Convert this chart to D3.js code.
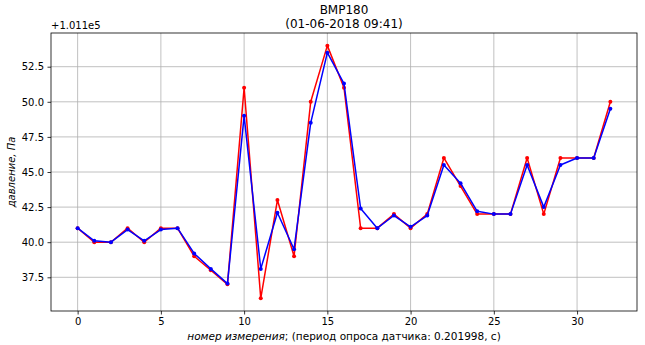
<!DOCTYPE html>
<html>
<head>
<meta charset="utf-8">
<script src="https://cdn.jsdelivr.net/npm/d3@7"></script>
<style>
  body { margin: 0; background: #fff; }
  svg { font-family: "DejaVu Sans", sans-serif; }
</style>
</head>
<body>
<div id="chart"></div>
<script>
// pressure offsets from 1.011e5, Pa
const offset = 101100;
const raw = [41, 40, 40, 41, 40, 41, 41, 39, 38, 37, 51, 36, 43, 39, 50, 54, 51, 41, 41, 42, 41, 42, 46, 44, 42, 42, 42, 46, 42, 46, 46, 46, 50];
const smooth = [41, 40.1, 40, 40.9, 40.1, 40.9, 41, 39.2, 38.1, 37.05, 49, 38.1, 42.1, 39.5, 48.5, 53.5, 51.3, 42.4, 41, 41.9, 41.1, 41.9, 45.5, 44.2, 42.2, 42, 42, 45.5, 42.5, 45.5, 46, 46, 49.5];
const xTicks = [0, 5, 10, 15, 20, 25, 30];
const yTicks = [37.5, 40.0, 42.5, 45.0, 47.5, 50.0, 52.5];

const W = 645, H = 345;
const margin = { top: 33, right: 8, bottom: 34, left: 51 };
const width = W - margin.left - margin.right;
const height = H - margin.top - margin.bottom;

const svg = d3.select('#chart')
  .append('svg')
  .attr('width', W)
  .attr('height', H);

const g = svg.append('g')
  .attr('transform', 'translate(' + margin.left + ',' + margin.top + ')');

const n = raw.length - 1;
const x = d3.scaleLinear()
  .domain([-0.05 * n, n * 1.05])
  .range([0, width]);

const yMin = d3.min(raw.concat(smooth)), yMax = d3.max(raw.concat(smooth));
const yPad = (yMax - yMin) * 0.05;
const y = d3.scaleLinear()
  .domain([yMin - yPad, yMax + yPad])
  .range([height, 0]);

// grid
g.append('g')
  .selectAll('line')
  .data(xTicks)
  .enter()
  .append('line')
  .attr('x1', d => x(d)).attr('x2', d => x(d))
  .attr('y1', 0).attr('y2', height)
  .attr('stroke', '#b0b0b0').attr('stroke-width', 0.8);

g.append('g')
  .selectAll('line')
  .data(yTicks)
  .enter()
  .append('line')
  .attr('x1', 0).attr('x2', width)
  .attr('y1', d => y(d)).attr('y2', d => y(d))
  .attr('stroke', '#b0b0b0').attr('stroke-width', 0.8);

// axes
const xAxis = g.append('g')
  .attr('transform', 'translate(0,' + height + ')')
  .call(d3.axisBottom(x).tickValues(xTicks).tickSize(3.5).tickPadding(3.5).tickFormat(d3.format('d')));
const yAxis = g.append('g')
  .call(d3.axisLeft(y).tickValues(yTicks).tickSize(3.5).tickPadding(3.5).tickFormat(d3.format('.1f')));

[xAxis, yAxis].forEach(a => {
  a.select('.domain').remove();
  a.selectAll('text').attr('font-size', 10).attr('fill', '#000').attr('font-family', 'DejaVu Sans');
  a.selectAll('line').attr('stroke', '#000').attr('stroke-width', 0.8);
});

// frame
g.append('rect')
  .attr('width', width).attr('height', height)
  .attr('fill', 'none').attr('stroke', '#000').attr('stroke-width', 0.8);

// lines
const line = d3.line()
  .x((d, i) => x(i))
  .y(d => y(d));

[[raw, 'red'], [smooth, 'blue']].forEach(([data, color]) => {
  g.append('path')
    .datum(data)
    .attr('d', line)
    .attr('fill', 'none')
    .attr('stroke', color)
    .attr('stroke-width', 1.5)
    .attr('stroke-linejoin', 'round');
  g.append('g')
    .selectAll('circle')
    .data(data)
    .enter()
    .append('circle')
    .attr('cx', (d, i) => x(i))
    .attr('cy', d => y(d))
    .attr('r', 2)
    .attr('fill', color);
});

// offset text
svg.append('text')
  .attr('x', margin.left)
  .attr('y', margin.top - 4)
  .attr('font-size', 10)
  .text('+' + d3.format('.4~e')(offset).replace('e+', 'e'));

// title
svg.append('text')
  .attr('x', margin.left + width / 2)
  .attr('y', 14)
  .attr('text-anchor', 'middle')
  .attr('font-size', 12)
  .text('BMP180');
svg.append('text')
  .attr('x', margin.left + width / 2)
  .attr('y', 28)
  .attr('text-anchor', 'middle')
  .attr('font-size', 12)
  .text('(01-06-2018 09:41)');

// axis labels
const xl = svg.append('text')
  .attr('x', margin.left + width / 2)
  .attr('y', H - 5)
  .attr('text-anchor', 'middle')
  .attr('font-size', 10.5);
xl.append('tspan').attr('font-style', 'italic').text('номер измерения');
xl.append('tspan').text('; (период опроса датчика: 0.201998, с)');

svg.append('text')
  .attr('transform', 'translate(15,' + (margin.top + height / 2) + ') rotate(-90)')
  .attr('text-anchor', 'middle')
  .attr('font-size', 10)
  .attr('font-style', 'italic')
  .text('давление, Па');
</script>
</body>
</html>
